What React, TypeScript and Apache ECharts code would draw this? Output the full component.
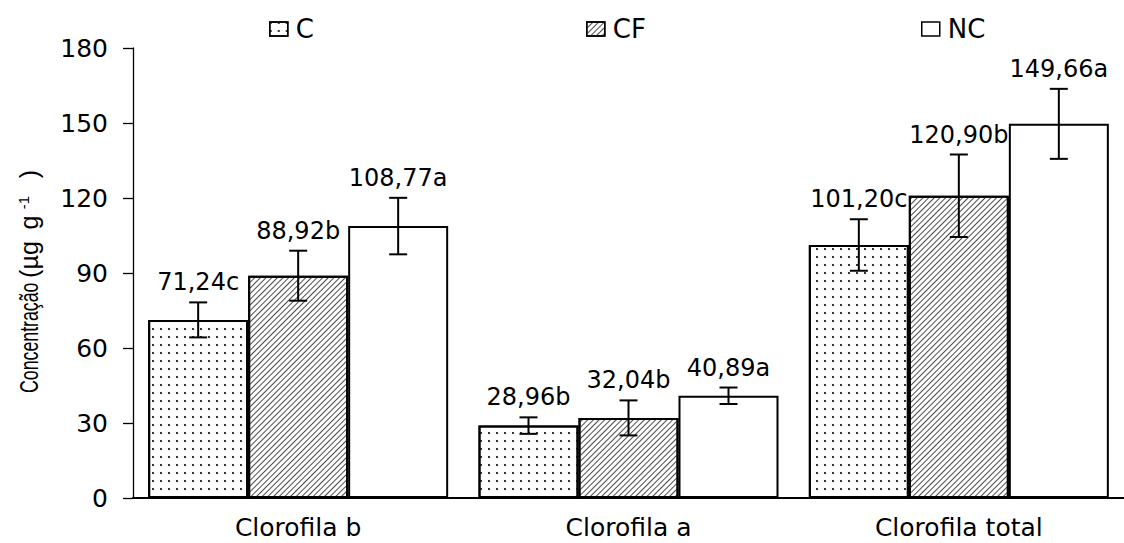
import React, { useEffect, useRef } from "react";
import * as echarts from "echarts";

// Chlorophyll concentration by treatment
const categories = ["Clorofila b", "Clorofila a", "Clorofila total"];

const valuesC = [71.24, 28.96, 101.2];
const valuesCF = [88.92, 32.04, 120.9];
const valuesNC = [108.77, 40.89, 149.66];

const errC = [7.0, 3.3, 10.3];
const errCF = [10.0, 7.0, 16.5];
const errNC = [11.3, 3.3, 14.0];

const lettersC = ["c", "b", "c"];
const lettersCF = ["b", "b", "b"];
const lettersNC = ["a", "a", "a"];

const yTicks = { min: 0, max: 180, interval: 30 };

const BAR_W = 100;
const FONT = "DejaVu Sans";
const TITLE_FONT = '24px "Liberation Sans"';

const fmt = (v: number) => v.toFixed(2).replace(".", ",");

const dotDecal = {
  symbol: "rect",
  symbolSize: 1,
  color: "#333",
  dashArrayX: [1.4, 5.9],
  dashArrayY: [1.4, 5.9],
  rotation: 0,
};

const hatchDecal = {
  symbol: "rect",
  symbolSize: 1,
  color: "#4a4a4a",
  dashArrayX: [1, 0],
  dashArrayY: [0.9, 2.1],
  rotation: -Math.PI / 4,
};

export default function App() {
  const ref = useRef<HTMLDivElement>(null);

  useEffect(() => {
    if (!ref.current) return;
    const chart = echarts.init(ref.current, undefined, { renderer: "svg" });

    const sets = [
      { name: "C", values: valuesC, err: errC, letters: lettersC, decal: dotDecal },
      { name: "CF", values: valuesCF, err: errCF, letters: lettersCF, decal: hatchDecal },
      { name: "NC", values: valuesNC, err: errNC, letters: lettersNC, decal: null },
    ];

    const barSeries = sets.map((s) => ({
      type: "bar",
      name: s.name,
      data: s.values,
      barWidth: BAR_W,
      barGap: "0%",
      itemStyle: {
        color: "#fff",
        borderColor: "#000",
        borderWidth: 2,
        decal: s.decal || undefined,
      },
      z: 2,
    }));

    const errSeries = sets.map((s, k) => ({
      type: "custom",
      name: s.name + "-err",
      z: 5,
      data: s.values.map((v, i) => [i, v, s.err[i]]),
      renderItem: (params: any, api: any) => {
        const cat = api.value(0);
        const v = api.value(1);
        const e = api.value(2);
        const label = fmt(v) + s.letters[cat];
        const top = api.coord([cat, v + e]);
        const bot = api.coord([cat, v - e]);
        const x = top[0] + (k - 1) * BAR_W;
        const cap = 9;
        const ls = { stroke: "#000", lineWidth: 2 };
        return {
          type: "group",
          children: [
            { type: "line", shape: { x1: x, y1: top[1], x2: x, y2: bot[1] }, style: ls },
            { type: "line", shape: { x1: x - cap, y1: top[1], x2: x + cap, y2: top[1] }, style: ls },
            { type: "line", shape: { x1: x - cap, y1: bot[1], x2: x + cap, y2: bot[1] }, style: ls },
            {
              type: "text",
              style: {
                text: label,
                x: x,
                y: top[1] - 20,
                textAlign: "center",
                textVerticalAlign: "middle",
                fill: "#000",
                font: `24px "${FONT}"`,
              },
            },
          ],
        };
      },
    }));

    const legendAt = (name: string, left: number) => ({
      data: [{ name, icon: "rect" }],
      left,
      top: 16,
      padding: 0,
      itemWidth: 18,
      itemHeight: 14,
      itemStyle: { borderWidth: 1.5 },
      textStyle: { fontFamily: FONT, fontSize: 26, color: "#000", lineHeight: 26, padding: [0, 0, 0, 3] },
      selectedMode: false,
    });

    chart.setOption({
      animation: false,
      backgroundColor: "#fff",
      legend: [legendAt("C", 269), legendAt("CF", 586), legendAt("NC", 921)],
      grid: { left: 133, right: -7, top: 48, bottom: 45, containLabel: false },
      xAxis: {
        type: "category",
        data: categories,
        axisLine: { lineStyle: { color: "#000", width: 2 } },
        axisTick: { show: false },
        axisLabel: { fontFamily: FONT, fontSize: 25, lineHeight: 24, color: "#000", margin: 17 },
      },
      yAxis: {
        type: "value",
        min: yTicks.min,
        max: yTicks.max,
        interval: yTicks.interval,
        splitLine: { show: false },
        axisLine: { show: true, lineStyle: { color: "#000", width: 1.3 } },
        axisTick: { show: true, length: 10, lineStyle: { color: "#000", width: 1.3 } },
        axisLabel: { fontFamily: FONT, fontSize: 25, color: "#000", margin: 25 },
      },
      graphic: [
        {
          type: "text",
          x: 29,
          y: 393,
          rotation: Math.PI / 2,
          scaleX: 0.74,
          scaleY: 1.05,
          style: {
            text: "Concentração",
            textAlign: "left",
            textVerticalAlign: "middle",
            fill: "#000",
            font: TITLE_FONT,
          },
        },
        {
          type: "text",
          x: 29,
          y: 278,
          rotation: Math.PI / 2,
          scaleX: 1.05,
          scaleY: 1.05,
          style: {
            text: "{a|(µg}{b|g}{s|-1}{c|)}",
            textAlign: "left",
            textVerticalAlign: "middle",
            fill: "#000",
            font: TITLE_FONT,
            rich: {
              a: { font: TITLE_FONT, fill: "#000" },
              b: { font: TITLE_FONT, fill: "#000", padding: [0, 0, 0, 11] },
              s: { font: '14px "Liberation Sans"', fill: "#000", verticalAlign: "top", padding: [0, 0, 0, 6] },
              c: { font: TITLE_FONT, fill: "#000", padding: [0, 0, 0, 17] },
            },
          },
        },
      ],
      series: [...barSeries, ...errSeries],
    });

    return () => chart.dispose();
  }, []);

  return (
    <div
      ref={ref}
      style={{ position: "absolute", left: 0, top: 0, width: 1124, height: 543, background: "#fff" }}
    />
  );
}
